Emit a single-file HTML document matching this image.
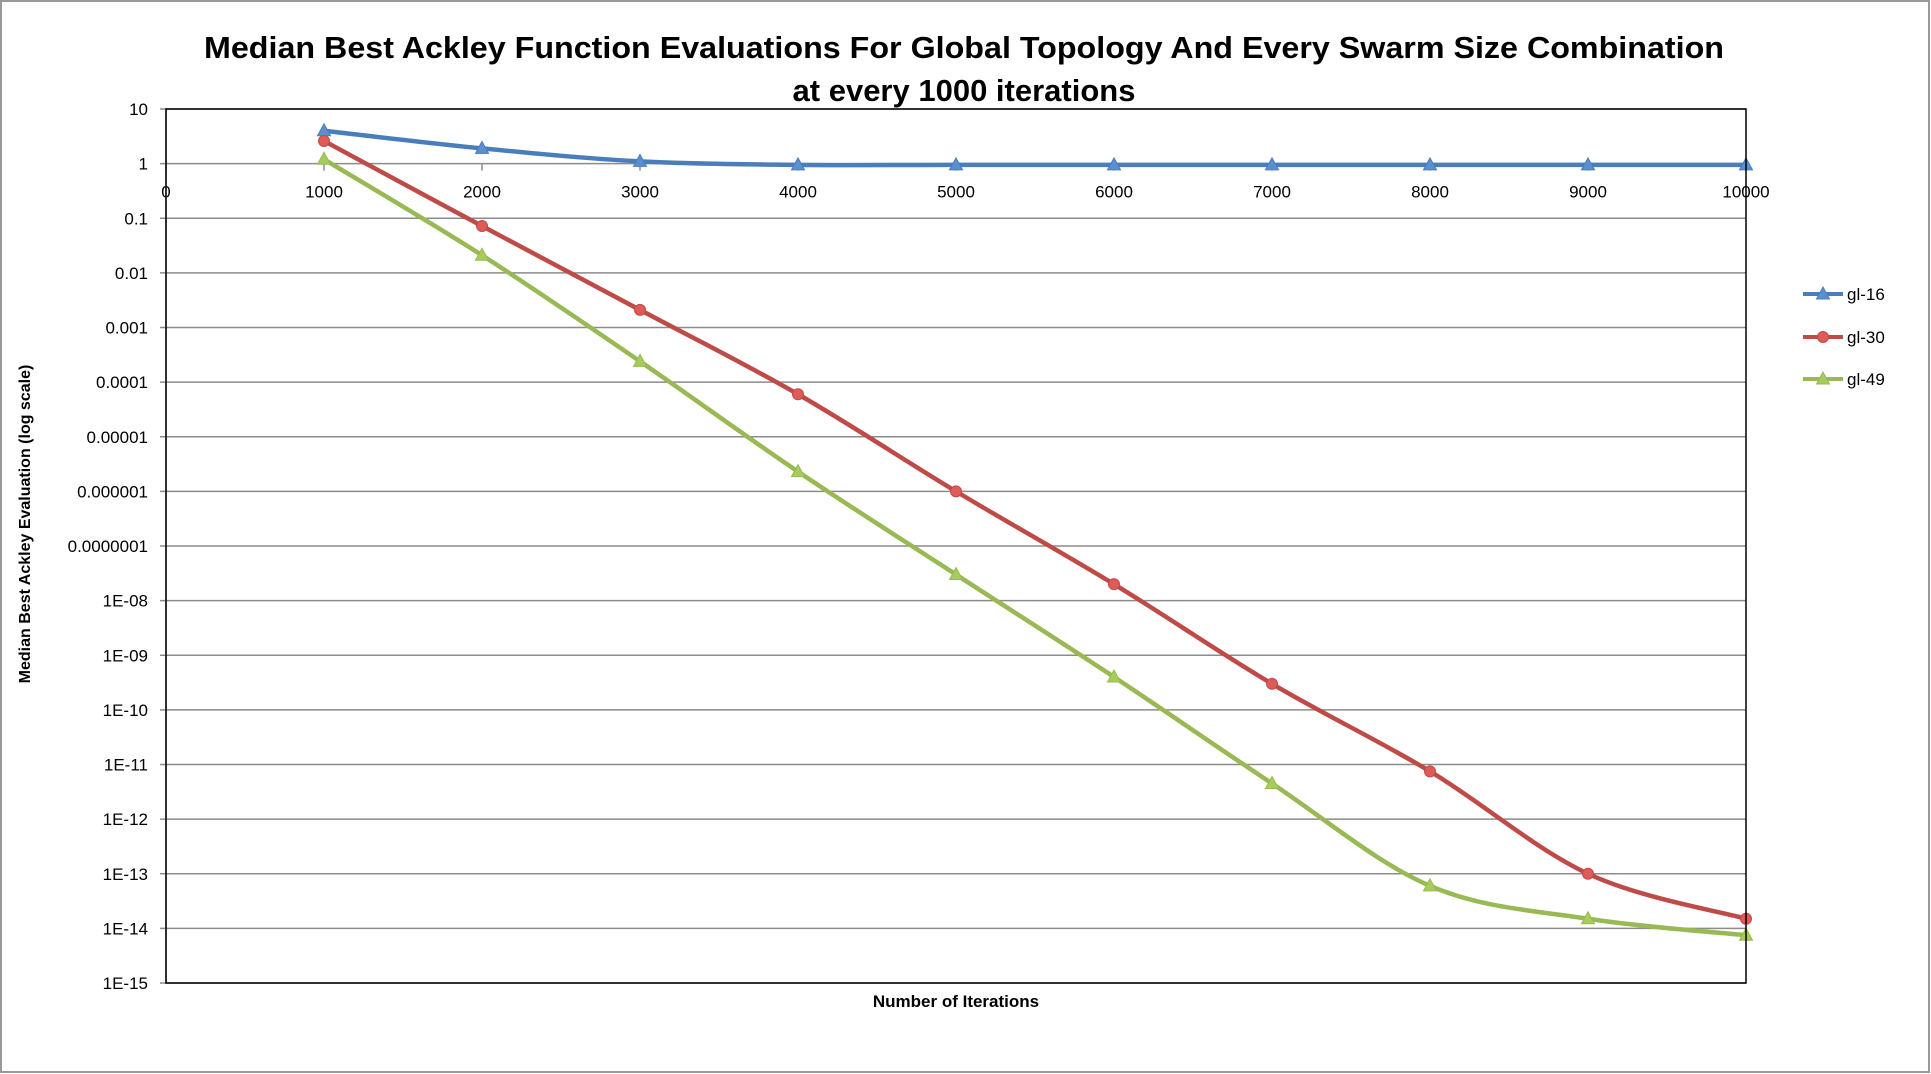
<!DOCTYPE html>
<html><head><meta charset="utf-8"><style>
html,body{margin:0;padding:0;background:#fff}
svg{display:block;font-family:"Liberation Sans",sans-serif}
</style></head><body>
<svg id="chart" width="1931" height="1074" xmlns="http://www.w3.org/2000/svg">
<rect x="1" y="1" width="1928" height="1071" fill="#fff" stroke="#999" stroke-width="2"/>
<text x="964" y="58" font-size="31" font-weight="bold" text-anchor="middle" textLength="1520" lengthAdjust="spacingAndGlyphs">Median Best Ackley Function Evaluations For Global Topology And Every Swarm Size Combination</text>
<text x="964" y="101" font-size="31" font-weight="bold" text-anchor="middle">at every 1000 iterations</text>
<g id="grid"></g>
<g id="series"></g>
<rect x="166" y="109" width="1580" height="874" fill="none" stroke="#000" stroke-width="1.5"/>
<text transform="translate(30,524) rotate(-90)" font-size="16" font-weight="bold" text-anchor="middle">Median Best Ackley Evaluation (log scale)</text>
<text x="956" y="1007" font-size="17" font-weight="bold" text-anchor="middle">Number of Iterations</text>
<g id="legend"></g>
</svg>
<script>
const xCategories=[1000,2000,3000,4000,5000,6000,7000,8000,9000,10000];
const xTicks=[0,1000,2000,3000,4000,5000,6000,7000,8000,9000,10000];
const yTickLabels=["10","1","0.1","0.01","0.001","0.0001","0.00001","0.000001","0.0000001","1E-08","1E-09","1E-10","1E-11","1E-12","1E-13","1E-14","1E-15"];
const seriesNames=["gl-16","gl-30","gl-49"];
const gl16=[4.0,1.9,1.1,0.95,0.95,0.95,0.95,0.95,0.95,0.95];
const gl30=[2.6,0.072,0.0021,0.00006,1.0e-6,2.0e-8,3.0e-10,7.5e-12,1.0e-13,1.5e-14];
const gl49=[1.2,0.021,0.00024,2.3e-6,3.0e-8,4.0e-10,4.5e-12,6.0e-14,1.5e-14,7.5e-15];
const colors=["#4a7ebb","#be4b48","#98b954"];
const NS="http://www.w3.org/2000/svg";
const L=166,R=1746,T=109,B=983;
function xs(v){return L+(v/10000)*(R-L);}
function ys(v){return T+(1-Math.log10(v))*(B-T)/16;}
function mk(tag,attrs,parent){const e=document.createElementNS(NS,tag);for(const k in attrs)e.setAttribute(k,attrs[k]);parent.appendChild(e);return e;}
const grid=document.getElementById('grid');
yTickLabels.forEach((lab,i)=>{
  const v=Math.pow(10,1-i);const y=ys(v);
  const ln=mk('line',{x1:L-6,x2:R,y1:y,y2:y,stroke:'#8c8c8c','stroke-width':1.5},grid);
  
  
  const t=mk('text',{x:L-18,y:y+6,'font-size':17,'text-anchor':'end'},grid);
  t.textContent=lab;
  
  
});
const axisY=ys(1);
xTicks.forEach(v=>{
  const x=xs(v);
  const tk=mk('line',{x1:x,x2:x,y1:axisY,y2:axisY+7,stroke:'#8c8c8c','stroke-width':1.5},grid);
  
  
  const t=mk('text',{x:x,y:axisY+34,'font-size':17,'text-anchor':'middle'},grid);
  t.textContent=v;
  
  
});
const va=mk('line',{x1:L,x2:L,y1:T,y2:B,stroke:'#8c8c8c','stroke-width':1.5},grid);


function smooth(pts){
  let d=`M${pts[0][0]},${pts[0][1]}`;
  for(let i=0;i<pts.length-1;i++){
    const p0=pts[i-1]||pts[i],p1=pts[i],p2=pts[i+1],p3=pts[i+2]||p2;
    const c1=[p1[0]+(p2[0]-p0[0])/6,p1[1]+(p2[1]-p0[1])/6];
    const c2=[p2[0]-(p3[0]-p1[0])/6,p2[1]-(p3[1]-p1[1])/6];
    d+=` C${c1[0]},${c1[1]} ${c2[0]},${c2[1]} ${p2[0]},${p2[1]}`;
  }
  return d;
}
function marker(kind,x,y,c,parent){
  let m;
  if(kind==='circle') m=mk('circle',{cx:x,cy:y,r:5.5,fill:'#e05a57',stroke:c,'stroke-width':1},parent);
  else m=mk('polygon',{points:`${x},${y-7} ${x-6.5},${y+5} ${x+6.5},${y+5}`,fill:c==colors[0]?'#5b8fd0':'#a6cc5c',stroke:c,'stroke-width':1},parent);
  return m;
}
const ser=document.getElementById('series');
const allData=[gl16,gl30,gl49];
const kinds=['tri','circle','tri'];
allData.forEach((data,si)=>{
  const pts=data.map((v,i)=>[xs(xCategories[i]),ys(v)]);
  const g=mk('g',{},ser);
  
  
  const p=mk('path',{d:smooth(pts),fill:'none',stroke:colors[si],'stroke-width':4.5,'stroke-linejoin':'round'},g);
  
  
  pts.forEach(pt=>{
    const m=marker(kinds[si],pt[0],pt[1],colors[si],g);
    
    
  });
});
const leg=document.getElementById('legend');
const legY=[294,337,379];
seriesNames.forEach((n,i)=>{
  const g=mk('g',{},leg);
  
  
  const ln=mk('line',{x1:1803,x2:1843,y1:legY[i],y2:legY[i],stroke:colors[i],'stroke-width':4},g);
  
  
  const m=marker(kinds[i],1823,legY[i],colors[i],g);
  
  
  const t=mk('text',{x:1847,y:legY[i]+6,'font-size':17},g);
  t.textContent=n;
  
  
});
</script>
</body></html>
